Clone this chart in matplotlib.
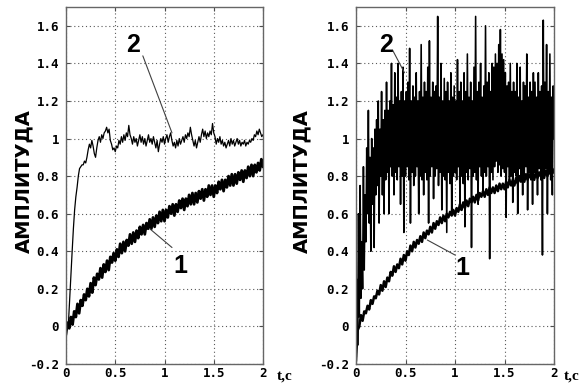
import numpy as np
import matplotlib
matplotlib.use("Agg")
import matplotlib.pyplot as plt

# ---------------- data ----------------
x_ticks = [0, 0.5, 1, 1.5, 2]
x_tick_labels = ["0", "0.5", "1", "1.5", "2"]
y_ticks = [-0.2, 0, 0.2, 0.4, 0.6, 0.8, 1.0, 1.2, 1.4, 1.6]
y_tick_labels = ["-0.2", "0", "0.2", "0.4", "0.6", "0.8", "1", "1.2", "1.4", "1.6"]
y_label = "АМПЛИТУДА"
x_label = "t,c"

# left panel, curve 1 (slow noisy rise)
left_curve1 = [
    -0.04, 0.02, -0.01, 0.05, 0.01, 0.08,
    0.05, 0.12, 0.07, 0.14, 0.11, 0.17,
    0.14, 0.20, 0.16, 0.23, 0.18, 0.26,
    0.22, 0.28, 0.25, 0.31, 0.26, 0.33,
    0.29, 0.35, 0.30, 0.37, 0.34, 0.39,
    0.35, 0.41, 0.37, 0.44, 0.39, 0.45,
    0.40, 0.46, 0.43, 0.49, 0.44, 0.50,
    0.45, 0.51, 0.47, 0.53, 0.49, 0.54,
    0.49, 0.55, 0.52, 0.57, 0.52, 0.58,
    0.53, 0.59, 0.55, 0.61, 0.56, 0.62,
    0.56, 0.62, 0.58, 0.64, 0.60, 0.65,
    0.59, 0.65, 0.61, 0.67, 0.63, 0.68,
    0.62, 0.68, 0.64, 0.70, 0.65, 0.71,
    0.65, 0.71, 0.66, 0.72, 0.68, 0.73,
    0.67, 0.73, 0.69, 0.75, 0.70, 0.75,
    0.69, 0.75, 0.71, 0.77, 0.73, 0.78,
    0.72, 0.78, 0.74, 0.80, 0.75, 0.81,
    0.75, 0.81, 0.76, 0.82, 0.78, 0.83,
    0.77, 0.83, 0.79, 0.85, 0.80, 0.86,
    0.80, 0.86, 0.82, 0.87, 0.83, 0.89,
    0.85]

# left panel, curve 2 (fast rise, small noise)
left_curve2 = [
    0.00, 0.00, 0.02, 0.15, 0.28, 0.40, 0.52, 0.62, 0.69, 0.74,
    0.80, 0.84, 0.85, 0.86, 0.86, 0.88, 0.87, 0.90, 0.94, 0.97,
    0.95, 0.99, 0.96, 0.92, 0.90, 0.95, 0.99, 1.01, 0.98, 1.02,
    1.00, 1.03, 1.04, 1.06, 1.03, 1.05, 0.99, 0.97, 0.94, 0.95,
    0.93, 0.96, 0.95, 0.99, 0.97, 1.01, 0.98, 1.02, 0.99, 1.03,
    1.01, 1.07, 1.02, 1.00, 0.97, 1.01, 0.98, 1.00, 0.96, 0.99,
    1.02, 0.98, 1.01, 0.97, 1.00, 0.96, 0.99, 1.02, 0.98, 1.00,
    0.97, 1.01, 0.98, 0.95, 0.99, 0.93, 0.97, 1.00, 0.98, 1.01,
    0.97, 1.00, 1.02, 0.98, 1.01, 1.03, 0.99, 0.96, 0.98, 0.95,
    0.99, 0.96, 1.00, 0.97, 0.99, 1.01, 0.98, 1.02, 1.00, 1.03,
    1.01, 1.06, 1.02, 0.99, 0.96, 0.99, 0.95, 0.98, 1.01, 0.98,
    1.02, 1.05, 1.01, 1.04, 1.00, 1.03, 1.01, 1.04, 1.02, 1.08,
    1.03, 1.01, 0.97, 1.00, 0.98, 1.01, 0.97, 0.99, 0.96, 0.98,
    0.95, 0.97, 0.99, 0.96, 1.00, 0.97, 0.99, 0.96, 0.98, 1.00,
    0.97, 0.99, 0.96, 0.98, 0.97, 0.99, 0.96, 0.98, 0.97, 0.99,
    0.98, 1.00, 0.99, 1.02, 1.01, 1.04, 1.02, 1.05, 1.03, 1.01,
    1.02]

# right panel, curve 1
right_curve1 = [
    -0.18, -0.02, 0.00, 0.06, 0.03, 0.08,
    0.07, 0.11, 0.09, 0.14, 0.12, 0.16,
    0.15, 0.19, 0.17, 0.22, 0.19, 0.24,
    0.21, 0.26, 0.24, 0.29, 0.27, 0.32,
    0.29, 0.33, 0.31, 0.36, 0.33, 0.38,
    0.35, 0.40, 0.38, 0.43, 0.40, 0.45,
    0.42, 0.46, 0.44, 0.48, 0.45, 0.50,
    0.47, 0.51, 0.49, 0.53, 0.50, 0.55,
    0.52, 0.56, 0.54, 0.58, 0.55, 0.59,
    0.56, 0.60, 0.58, 0.61, 0.59, 0.62,
    0.59, 0.63, 0.61, 0.65, 0.62, 0.66,
    0.63, 0.67, 0.64, 0.68, 0.66, 0.69,
    0.66, 0.70, 0.67, 0.71, 0.69, 0.72,
    0.69, 0.73, 0.70, 0.74, 0.71, 0.74,
    0.71, 0.75, 0.72, 0.76, 0.73, 0.76,
    0.73, 0.77, 0.74, 0.78, 0.75, 0.78,
    0.75, 0.79, 0.76, 0.80, 0.77, 0.80,
    0.77, 0.81, 0.78, 0.81, 0.79, 0.82,
    0.78, 0.82, 0.79, 0.82, 0.80, 0.83,
    0.79, 0.83, 0.80, 0.83, 0.81, 0.84,
    0.82]

# right panel, curve 2 (very noisy)
right_curve2 = [
    -0.18, 0.25, -0.10, 0.60, 0.05, 0.75, 0.15, 0.45, 0.20, 0.85, 0.30, 0.70,
    0.45, 0.95, 0.60, 1.15, 0.55, 0.90, 0.40, 1.00, 0.65, 0.95, 0.42, 1.05,
    0.70, 1.10, 0.75, 1.20, 0.55, 1.05, 0.80, 1.25, 0.70, 1.10, 0.60, 1.15,
    0.78, 1.30, 0.82, 1.15, 0.60, 1.20, 0.85, 1.40, 0.80, 1.18, 0.70, 1.35,
    0.82, 1.22, 0.78, 1.40, 0.85, 1.20, 0.65, 1.25, 0.80, 1.38, 0.50, 1.20,
    0.80, 1.25, 0.85, 1.30, 0.78, 1.48, 0.55, 1.20, 0.82, 1.28, 0.75, 1.22,
    0.80, 1.35, 0.85, 1.20, 0.60, 1.25, 0.80, 1.50, 0.78, 1.22, 0.70, 1.30,
    0.82, 1.25, 0.78, 1.38, 0.55, 1.52, 0.80, 1.22, 0.85, 1.30, 0.68, 1.25,
    0.80, 1.28, 0.84, 1.65, 0.75, 1.22, 0.82, 1.40, 0.62, 1.20, 0.80, 1.32,
    0.78, 1.25, 0.50, 1.30, 0.82, 1.20, 0.76, 1.35, 0.60, 1.22, 0.80, 1.28,
    0.82, 1.20, 0.78, 1.42, 0.85, 1.25, 0.62, 1.30, 0.80, 1.20, 0.76, 1.35,
    0.53, 1.25, 0.82, 1.45, 0.78, 1.22, 0.84, 1.30, 0.42, 1.20, 0.80, 1.38,
    0.82, 1.65, 0.78, 1.25, 0.65, 1.30, 0.85, 1.40, 0.80, 1.22, 0.70, 1.28,
    0.82, 1.60, 0.80, 1.30, 0.85, 1.35, 0.36, 1.25, 0.82, 1.40, 0.78, 1.38,
    0.85, 1.45, 0.88, 1.40, 0.82, 1.50, 0.86, 1.58, 0.80, 1.45, 0.84, 1.42,
    0.82, 1.35, 0.58, 1.28, 0.85, 1.30, 0.78, 1.40, 0.80, 1.25, 0.66, 1.30,
    0.82, 1.25, 0.80, 1.40, 0.60, 1.22, 0.84, 1.38, 0.78, 1.20, 0.70, 1.30,
    0.80, 1.28, 0.85, 1.45, 0.62, 1.22, 0.82, 1.30, 0.78, 1.25, 0.65, 1.35,
    0.82, 1.30, 0.80, 1.22, 0.70, 1.35, 0.84, 1.25, 0.78, 1.28, 0.38, 1.63,
    0.80, 1.30, 0.84, 1.50, 0.60, 1.25, 0.82, 1.45, 0.78, 1.22, 0.70, 1.28,
    1.00]

# ---------------- figure ----------------
fig = plt.figure(figsize=(5.82, 3.87), dpi=100)
fig.patch.set_facecolor("white")

W, H = 582.0, 387.0
ax1 = fig.add_axes([66 / W, 23 / H, 197 / W, 357 / H])
ax2 = fig.add_axes([356 / W, 23 / H, 198 / W, 357 / H])

tick_font = dict(family="DejaVu Sans Mono", weight="bold", size=9)


def style(ax):
    ax.set_xlim(0, 2)
    ax.set_ylim(-0.2, 1.7)
    ax.set_xticks(x_ticks)
    ax.set_xticklabels(x_tick_labels, **tick_font)
    ax.set_yticks(y_ticks)
    ax.set_yticklabels(y_tick_labels, **tick_font)
    ax.tick_params(direction="in", length=3, width=0.8, color="0.3",
                   top=True, right=True)
    ax.tick_params(axis="x", pad=2.5)
    ax.tick_params(axis="y", pad=5)
    ax.grid(True, color="0.35", linestyle=(0, (1, 2.5)), linewidth=0.8)
    for s in ax.spines.values():
        s.set_color("0.4")
        s.set_linewidth(1.0)


# left panel
tl1 = np.linspace(0, 2, len(left_curve1))
tl2 = np.linspace(0, 2, len(left_curve2))
ax1.plot(tl1, left_curve1, color="black", lw=2.0)
ax1.plot(tl2, left_curve2, color="black", lw=0.9)
style(ax1)

# right panel
tr2 = np.linspace(0, 2, len(right_curve2))
tr1 = np.linspace(0, 2, len(right_curve1))
ax2.plot(tr2, right_curve2, color="black", lw=1.15)
ax2.plot(tr1, right_curve1, color="black", lw=1.8)
style(ax2)

# curve number labels with leader lines
num_font = dict(family="Liberation Sans", weight="bold", size=18)
line_props = dict(arrowstyle="-", color="0.25", lw=0.8, shrinkA=0, shrinkB=0)

ax1.annotate("", xy=(1.076, 1.03), xytext=(0.78, 1.44), arrowprops=line_props)
ax1.text(0.68, 1.50, "2", ha="center", va="center", **num_font)
ax1.annotate("", xy=(0.85, 0.52), xytext=(1.076, 0.42), arrowprops=line_props)
ax1.text(1.16, 0.32, "1", ha="center", va="center", **num_font)

ax2.annotate("", xy=(0.49, 1.35), xytext=(0.37, 1.47), arrowprops=line_props)
ax2.text(0.30, 1.50, "2", ha="center", va="center", **num_font)
ax2.annotate("", xy=(0.72, 0.46), xytext=(1.0, 0.38), arrowprops=line_props)
ax2.text(1.07, 0.31, "1", ha="center", va="center", **num_font)

# axis labels
ylab_font = dict(family="DejaVu Sans", weight="bold", size=14)
fig.text(24 / W, 1 - 181 / H, y_label, rotation=90, ha="center", va="center", **ylab_font)
fig.text(302 / W, 1 - 181 / H, y_label, rotation=90, ha="center", va="center", **ylab_font)

xlab_font = dict(family="Liberation Serif", weight="bold", size=11)
fig.text(285 / W, 1 - 376 / H, x_label, ha="center", va="center", **xlab_font)
fig.text(572 / W, 1 - 376 / H, x_label, ha="center", va="center", **xlab_font)

fig.savefig("out.png", dpi=100, facecolor="white")
